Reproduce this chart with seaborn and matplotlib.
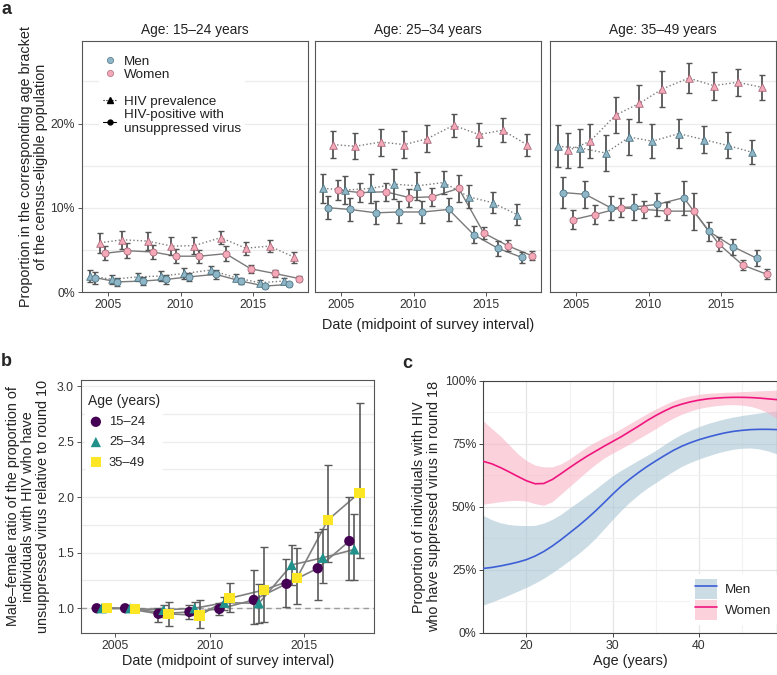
import numpy as np
import pandas as pd
import matplotlib
matplotlib.use("Agg")
import matplotlib.pyplot as plt
import seaborn as sns
from matplotlib.lines import Line2D
from matplotlib.patches import Patch
from matplotlib.ticker import FuncFormatter, FixedLocator

# ---------------- data: panel a (percent) ----------------
round_dates = [2004.3, 2005.8, 2007.56, 2009.2, 2010.78, 2012.6, 2014.33, 2015.98, 2017.65]
age_titles = ["Age: 15–24 years", "Age: 25–34 years", "Age: 35–49 years"]

men_prev_1524 = [1.9, 1.5, 1.8, 1.9, 2.2, 2.6, 1.7, 1.1, 1.3]
men_prev_1524_err = [0.7, 0.5, 0.5, 0.6, 0.7, 0.5, 0.4, 0.35, 0.4]
men_unsup_1524 = [1.7, 1.2, 1.3, 1.5, 1.8, 2.1, 1.3, 0.7, 0.9]
men_unsup_1524_err = [0.7, 0.45, 0.45, 0.5, 0.5, 0.5, 0.35, 0.2, 0.2]
women_prev_1524 = [5.85, 6.2, 6.05, 5.45, 5.5, 6.45, 5.2, 5.45, 4.15]
women_prev_1524_err = [1.2, 1.1, 1.05, 1.05, 1.0, 0.8, 0.75, 0.75, 0.65]
women_unsup_1524 = [4.6, 4.9, 4.75, 4.25, 4.25, 4.55, 2.75, 2.2, 1.6]
women_unsup_1524_err = [0.85, 0.9, 0.8, 0.8, 0.75, 0.9, 0.5, 0.4, 0.3]

men_prev_2534 = [12.3, 12.1, 12.3, 12.8, 12.6, 13.0, 11.3, 10.6, 9.2]
men_prev_2534_err = [1.75, 1.65, 1.75, 1.8, 1.65, 1.35, 1.35, 1.25, 1.2]
men_unsup_2534 = [10.0, 9.8, 9.4, 9.5, 9.5, 9.8, 6.8, 5.2, 4.1]
men_unsup_2534_err = [1.35, 1.35, 1.35, 1.35, 1.25, 1.4, 1.0, 0.9, 0.7]
women_prev_2534 = [17.5, 17.3, 17.8, 17.5, 18.2, 19.8, 18.7, 19.2, 17.5]
women_prev_2534_err = [1.65, 1.55, 1.6, 1.6, 1.6, 1.35, 1.4, 1.4, 1.3]
women_unsup_2534 = [12.1, 11.8, 11.9, 11.2, 11.3, 12.3, 7.0, 5.5, 4.3]
women_unsup_2534_err = [1.15, 1.1, 1.05, 1.05, 1.1, 1.6, 0.75, 0.65, 0.55]

men_prev_3549 = [17.3, 17.1, 16.5, 18.4, 17.9, 18.8, 18.1, 17.4, 16.6]
men_prev_3549_err = [2.5, 2.3, 2.15, 2.15, 2.05, 1.7, 1.65, 1.55, 1.45]
men_unsup_3549 = [11.8, 11.6, 10.0, 10.1, 10.4, 11.2, 7.2, 5.4, 4.0]
men_unsup_3549_err = [1.8, 1.6, 1.45, 1.5, 1.35, 2.0, 1.1, 0.95, 0.95]
women_prev_3549 = [16.8, 17.9, 21.0, 22.4, 24.1, 25.4, 24.5, 24.9, 24.3]
women_prev_3549_err = [2.05, 2.0, 2.15, 2.2, 2.1, 1.8, 1.65, 1.6, 1.5]
women_unsup_3549 = [8.6, 9.2, 10.0, 9.8, 9.6, 9.6, 5.7, 3.2, 2.1]
women_unsup_3549_err = [1.15, 1.15, 1.15, 1.05, 1.05, 2.2, 0.8, 0.55, 0.6]

# ---------------- data: panel b ----------------
age_labels_b = ["15–24", "25–34", "35–49"]
ratio_1524 = [1.0, 1.0, 0.95, 0.967, 0.994, 1.075, 1.22, 1.36, 1.605]
ratio_1524_lo = [np.nan, np.nan, 0.88, 0.90, 0.94, 0.86, 1.01, 1.07, 1.25]
ratio_1524_hi = [np.nan, np.nan, 1.00, 1.03, 1.05, 1.34, 1.44, 1.69, 2.00]
ratio_2534 = [1.0, 1.0, 0.985, 1.0, 1.05, 1.045, 1.39, 1.455, 1.53]
ratio_2534_lo = [np.nan, np.nan, 0.92, 0.94, 0.98, 0.87, 1.21, 1.23, 1.25]
ratio_2534_hi = [np.nan, np.nan, 1.03, 1.06, 1.10, 1.22, 1.57, 1.71, 1.85]
ratio_3549 = [1.0, 0.994, 0.95, 0.935, 1.09, 1.165, 1.27, 1.795, 2.04]
ratio_3549_lo = [np.nan, np.nan, 0.84, 0.82, 0.97, 0.88, 1.04, 1.42, 1.45]
ratio_3549_hi = [np.nan, np.nan, 1.06, 1.07, 1.23, 1.55, 1.54, 2.29, 2.85]

# ---------------- data: panel c (percent) ----------------
ages_c = [15, 16, 17, 18, 19, 20, 21, 22, 23, 24, 25, 26, 27, 28, 29, 30, 31, 32,
          33, 34, 35, 36, 37, 38, 39, 40, 41, 42, 43, 44, 45, 46, 47, 48, 49]
women_mean = [68, 67, 65.5, 63.8, 62, 60.3, 59.1, 59.2, 60.8, 63.1, 65.5, 67.8, 70, 72,
              74, 75.9, 77.8, 79.9, 82, 84.2, 86.2, 88, 89.6, 90.7, 91.6, 92.3, 92.8, 93.1,
              93.3, 93.4, 93.4, 93.3, 93.1, 92.8, 92.5]
women_low = [51, 51.5, 52, 52.4, 52.5, 52.2, 51.2, 50.6, 52, 55, 58, 61, 64, 66.8,
             69.3, 71.3, 73.1, 75, 77, 79, 81, 83.2, 85.1, 86.7, 88, 89, 89.6, 90.1,
             90.4, 90.5, 90.3, 89.8, 88.8, 87.2, 85]
women_high = [84, 81, 78, 74.5, 71, 68.3, 66.5, 65.8, 65.8, 67, 69, 71.4, 73.8, 75.7,
              77.5, 79.1, 81, 83, 85, 87, 88.8, 90.5, 92, 93.2, 94, 94.6, 95, 95.2,
              95.4, 95.5, 95.7, 95.8, 96, 96.1, 96.3]
men_mean = [25.5, 25.9, 26.5, 27.2, 28, 29, 30.4, 32.2, 34.4, 36.9, 39.6, 42.3, 45.2, 48.3,
            51.6, 55, 58.2, 61, 63.6, 66, 68.2, 70.3, 72.3, 74, 75.4, 76.6, 77.6, 78.5,
            79.3, 79.9, 80.3, 80.6, 80.7, 80.7, 80.6]
men_low = [11, 12.2, 13.6, 15, 16.5, 18, 19.7, 21.6, 23.8, 26.2, 28.7, 31.3, 34.2, 37.5,
           41.2, 45, 48.6, 51.9, 54.8, 57.4, 59.6, 61.9, 64, 66, 67.6, 68.9, 70.1, 71.2,
           72.1, 72.8, 73.2, 73.3, 72.9, 72.1, 71]
men_high = [46.5, 44.8, 43.6, 42.9, 42.6, 42.5, 42.6, 43.5, 45, 47, 49.5, 51.9, 54.4, 57,
            59.7, 62.3, 64.5, 66.5, 68.5, 70.4, 72.4, 74.7, 76.9, 78.8, 80.4, 81.8, 83,
            84, 84.9, 85.6, 86.2, 86.7, 87.2, 87.6, 88]

# ---------------- styles ----------------
sns.set_theme(style="white")
plt.rcParams["font.family"] = ["Liberation Sans", "DejaVu Sans"]
plt.rcParams["axes.edgecolor"] = "#555555"
plt.rcParams["axes.linewidth"] = 0.8

MEN_FACE, MEN_EDGE = "#8FB6C6", "#4D7585"
WOM_FACE, WOM_EDGE = "#F5A8B8", "#A8697A"
LINE_GRAY = "#7a7a7a"
ERR_GRAY = "#555555"
LABEL_FS = 10.4
offsets = [-0.52, -0.17, 0.17, 0.52]

fig = plt.figure(figsize=(7.77, 6.75), dpi=100)
W, H = 777.0, 675.0

def fx(px):
    return px / W

def fy(py):
    return 1 - py / H

panel_a_left = [82, 315, 550]
axes_a = []
series_sets = [
    (men_prev_1524, men_prev_1524_err, men_unsup_1524, men_unsup_1524_err,
     women_prev_1524, women_prev_1524_err, women_unsup_1524, women_unsup_1524_err),
    (men_prev_2534, men_prev_2534_err, men_unsup_2534, men_unsup_2534_err,
     women_prev_2534, women_prev_2534_err, women_unsup_2534, women_unsup_2534_err),
    (men_prev_3549, men_prev_3549_err, men_unsup_3549, men_unsup_3549_err,
     women_prev_3549, women_prev_3549_err, women_unsup_3549, women_unsup_3549_err),
]

for i, (left, title, sset) in enumerate(zip(panel_a_left, age_titles, series_sets)):
    ax = fig.add_axes([fx(left), fy(292), fx(226), (292 - 41) / H])
    axes_a.append(ax)
    mp, mpe, mu, mue, wp, wpe, wu, wue = sset
    specs = [
        (mp, mpe, offsets[0], MEN_FACE, MEN_EDGE, "^", ":"),
        (mu, mue, offsets[1], MEN_FACE, MEN_EDGE, "o", "-"),
        (wp, wpe, offsets[2], WOM_FACE, WOM_EDGE, "^", ":"),
        (wu, wue, offsets[3], WOM_FACE, WOM_EDGE, "o", "-"),
    ]
    for vals, errs, off, face, edge, mk, ls in specs:
        df = pd.DataFrame({"date": np.array(round_dates) + off, "val": np.array(vals) / 100})
        sns.lineplot(data=df, x="date", y="val", ax=ax, color=LINE_GRAY, linestyle=ls,
                     linewidth=1.0, zorder=2, sort=False)
        ax.errorbar(df["date"], df["val"], yerr=np.array(errs) / 100, fmt="none",
                    ecolor=ERR_GRAY, elinewidth=1.3, capsize=2.3, capthick=1.0, zorder=3)
        sns.scatterplot(data=df, x="date", y="val", ax=ax, marker=mk, s=30 if mk == "^" else 26,
                        color=face, edgecolor=edge, linewidth=0.6, zorder=4)
    ax.set_xlim(2003.2, 2018.8)
    ax.set_ylim(0, 0.298)
    ax.yaxis.set_major_locator(FixedLocator([0, 0.1, 0.2]))
    ax.yaxis.set_minor_locator(FixedLocator([0.05, 0.15, 0.25]))
    ax.xaxis.set_major_locator(FixedLocator([2005, 2010, 2015]))
    ax.yaxis.set_major_formatter(FuncFormatter(lambda v, p: f"{v*100:.0f}%"))
    ax.grid(axis="y", which="both", color="#ECECEC", linewidth=0.9)
    ax.set_axisbelow(True)
    ax.tick_params(axis="both", which="major", length=3, width=0.7, color="#555555",
                   labelsize=8.8, labelcolor="#333333", pad=2, bottom=True, left=True)
    ax.tick_params(axis="y", which="minor", length=0)
    ax.set_xlabel("")
    ax.set_ylabel("")
    ax.set_title(title, fontsize=9.9, pad=5, color="#222222")
    if i > 0:
        ax.set_yticklabels([])
        ax.tick_params(axis="y", which="major", length=0)

axes_a[0].set_ylabel("Proportion in the corresponding age bracket\nof the census-eligible population",
                     fontsize=LABEL_FS, labelpad=2, color="#222222", linespacing=1.1)
fig.text(fx(428.5), fy(325), "Date (midpoint of survey interval)", ha="center", va="center",
         fontsize=LABEL_FS, color="#222222")

leg_handles = [
    Line2D([], [], marker="o", linestyle="none", markerfacecolor=MEN_FACE,
           markeredgecolor=MEN_EDGE, markersize=4.5, markeredgewidth=0.5, label="Men"),
    Line2D([], [], marker="o", linestyle="none", markerfacecolor=WOM_FACE,
           markeredgecolor=WOM_EDGE, markersize=4.5, markeredgewidth=0.5, label="Women"),
    Line2D([], [], linestyle="none", label=" "),
    Line2D([], [], color="black", linestyle=":", marker="^", markersize=4, linewidth=0.8,
           label="HIV prevalence"),
    Line2D([], [], color="black", linestyle="-", marker="o", markersize=3.5, linewidth=0.8,
           label="HIV-positive with\nunsuppressed virus"),
]
leg_a = axes_a[0].legend(handles=leg_handles, loc="upper left", bbox_to_anchor=(0.075, 0.96),
                         frameon=True, facecolor="white", edgecolor="none", framealpha=1,
                         fontsize=9.7, handlelength=1.0, handletextpad=0.55, labelspacing=0.08,
                         borderpad=0.3, borderaxespad=0)
for t in leg_a.get_texts():
    t.set_color("#222222")

# ---------------- panel b ----------------
axb = fig.add_axes([fx(81), fy(632.7), fx(293.3), (632.7 - 380) / H])
b_colors = ["#440154", "#21918C", "#FDE725"]
b_markers = ["o", "^", "s"]
b_offsets = [-0.27, 0.0, 0.27]
b_sets = [(ratio_1524, ratio_1524_lo, ratio_1524_hi),
          (ratio_2534, ratio_2534_lo, ratio_2534_hi),
          (ratio_3549, ratio_3549_lo, ratio_3549_hi)]
axb.axhline(1.0, color="#9a9a9a", linestyle=(0, (4, 3)), linewidth=1.0, zorder=1)
for (vals, lo, hi), col, mk, off, lab in zip(b_sets, b_colors, b_markers, b_offsets, age_labels_b):
    df = pd.DataFrame({"date": np.array(round_dates) + off, "val": vals, "lo": lo, "hi": hi})
    sns.lineplot(data=df, x="date", y="val", ax=axb, color="#808080", linewidth=1.2, zorder=2, sort=False)
    ok = df["lo"].notna()
    axb.errorbar(df["date"][ok], df["val"][ok],
                 yerr=[(df["val"] - df["lo"])[ok], (df["hi"] - df["val"])[ok]],
                 fmt="none", ecolor="#5a5a5a", elinewidth=1.2, capsize=3, capthick=1.0, zorder=3)
    sns.scatterplot(data=df, x="date", y="val", ax=axb, marker=mk, s=55, color=col,
                    edgecolor="none", zorder=4, label=lab)
axb.set_xlim(2003.2, 2018.7)
axb.set_ylim(0.78, 3.055)
axb.yaxis.set_major_locator(FixedLocator([1.0, 1.5, 2.0, 2.5, 3.0]))
axb.yaxis.set_minor_locator(FixedLocator([1.25, 1.75, 2.25, 2.75]))
axb.yaxis.set_major_formatter(FuncFormatter(lambda v, p: f"{v:.1f}"))
axb.xaxis.set_major_locator(FixedLocator([2005, 2010, 2015]))
axb.grid(axis="y", which="both", color="#ECECEC", linewidth=0.9)
axb.set_axisbelow(True)
axb.tick_params(axis="both", which="major", length=3, width=0.7, color="#555555",
                labelsize=8.8, labelcolor="#333333", pad=2, bottom=True, left=True)
axb.tick_params(axis="y", which="minor", length=0)
axb.set_xlabel("Date (midpoint of survey interval)", fontsize=LABEL_FS, color="#222222", labelpad=2)
axb.set_ylabel("Male–female ratio of the proportion of\nindividuals with HIV who have\nunsuppressed virus relative to round 10",
               fontsize=LABEL_FS, color="#222222", labelpad=5, linespacing=1.1)
leg_b = axb.legend(loc="upper left", bbox_to_anchor=(0.015, 0.955), title="Age (years)",
                   frameon=True, facecolor="white", edgecolor="none", framealpha=1,
                   fontsize=9.4, title_fontsize=10, labelspacing=0.62, handletextpad=0.4,
                   borderpad=0.2, borderaxespad=0, handlelength=1.2)
leg_b._legend_box.align = "left"

# ---------------- panel c ----------------
axc = fig.add_axes([fx(483.3), fy(632.7), fx(293.4), (632.7 - 380.7) / H])
MEN_LINE, MEN_BAND = "#3D5FD6", "#A9C6D5"
WOM_LINE, WOM_BAND = "#F0157E", "#F9B3C6"
dfc = pd.DataFrame({"age": ages_c, "men": np.array(men_mean) / 100, "women": np.array(women_mean) / 100})
axc.fill_between(ages_c, np.array(men_low) / 100, np.array(men_high) / 100, color=MEN_BAND,
                 alpha=0.6, linewidth=0, zorder=2)
axc.fill_between(ages_c, np.array(women_low) / 100, np.array(women_high) / 100, color=WOM_BAND,
                 alpha=0.6, linewidth=0, zorder=2)
sns.lineplot(data=dfc, x="age", y="men", ax=axc, color=MEN_LINE, linewidth=1.2, zorder=3)
sns.lineplot(data=dfc, x="age", y="women", ax=axc, color=WOM_LINE, linewidth=1.2, zorder=3)
axc.set_xlim(15, 49)
axc.set_ylim(0, 1)
axc.xaxis.set_major_locator(FixedLocator([20, 30, 40]))
axc.xaxis.set_minor_locator(FixedLocator([25, 35, 45]))
axc.yaxis.set_major_locator(FixedLocator([0, 0.25, 0.5, 0.75, 1.0]))
axc.yaxis.set_minor_locator(FixedLocator([0.125, 0.375, 0.625, 0.875]))
axc.yaxis.set_major_formatter(FuncFormatter(lambda v, p: f"{v*100:.0f}%"))
axc.grid(which="major", color="#E6E6E6", linewidth=0.9)
axc.grid(which="minor", color="#F2F2F2", linewidth=0.8)
axc.set_axisbelow(True)
for s in axc.spines.values():
    s.set_color("#444444")
axc.tick_params(axis="both", which="major", length=3, width=0.7, color="#444444",
                labelsize=8.8, labelcolor="#333333", pad=2, bottom=True, left=True)
axc.tick_params(which="minor", length=0)
axc.set_xlabel("Age (years)", fontsize=LABEL_FS, color="#222222", labelpad=2)
axc.set_ylabel("Proportion of individuals with HIV\nwho have suppressed virus in round 18",
               fontsize=LABEL_FS, color="#222222", labelpad=3, linespacing=1.1)
c_handles = [
    (Patch(facecolor=MEN_BAND, alpha=0.6, edgecolor="none"), Line2D([], [], color=MEN_LINE, lw=1.2)),
    (Patch(facecolor=WOM_BAND, alpha=0.6, edgecolor="none"), Line2D([], [], color=WOM_LINE, lw=1.2)),
]
leg_c = axc.legend(c_handles, ["Men", "Women"], loc="lower right", bbox_to_anchor=(1.0, 0.03),
                   frameon=True, facecolor="white", edgecolor="none", framealpha=1,
                   fontsize=9.7, handlelength=1.6, handleheight=1.9, labelspacing=0.05,
                   handletextpad=0.6, borderpad=0.4, borderaxespad=0)

# panel letters
fig.text(fx(1), fy(9), "a", fontsize=13, fontweight="bold", ha="left", va="center")
fig.text(fx(1), fy(361), "b", fontsize=13, fontweight="bold", ha="left", va="center")
fig.text(fx(402), fy(363), "c", fontsize=13, fontweight="bold", ha="left", va="center")

fig.savefig("out.png", dpi=100)
